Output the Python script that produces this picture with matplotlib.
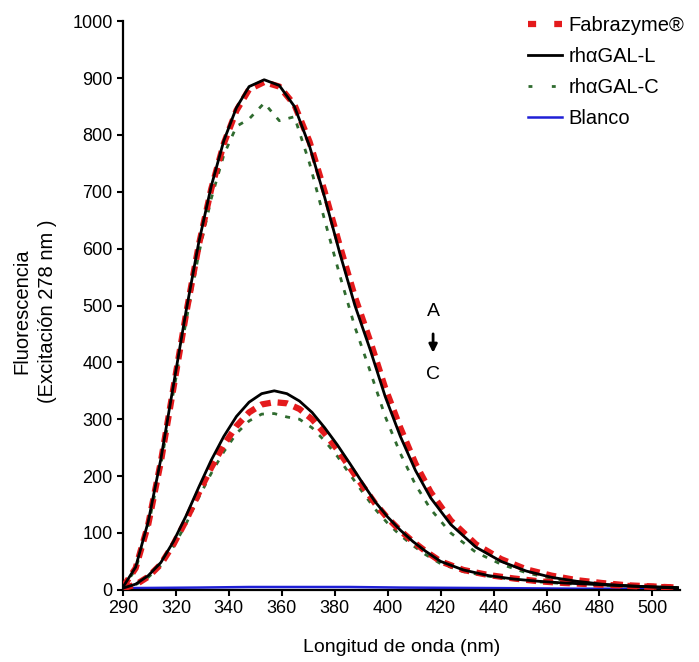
import numpy as np
import matplotlib.pyplot as plt

plt.rcParams['font.family'] = ['Liberation Sans', 'DejaVu Sans']

# wavelength (nm) sampled along the spectra
nm = [290, 295, 300, 305, 310, 315, 320, 325, 330, 335, 340, 346, 352, 358, 364,
      370, 376, 382, 388, 394, 400, 406, 412, 420, 430, 440, 450, 460, 470, 480,
      490, 500, 510]

# upper set of spectra (A)
fab_A = [5, 38, 115, 225, 355, 485, 605, 705, 785, 843, 880, 893, 885, 853, 788,
         700, 605, 515, 438, 355, 285, 222, 172, 122, 80, 54, 36, 25, 17, 12,
         8, 6, 4]
galL_A = [5, 40, 120, 230, 360, 490, 610, 710, 790, 848, 885, 897, 887, 850, 780,
          690, 592, 500, 423, 340, 270, 210, 162, 115, 75, 50, 33, 22, 15, 10,
          7, 5, 3]
galC_A = [4, 36, 112, 220, 348, 472, 590, 688, 765, 815, 828, 856, 825, 832, 750,
          650, 553, 462, 385, 305, 240, 185, 142, 100, 66, 45, 30, 20, 14, 10,
          7, 5, 3]

# lower set of spectra (C)
nm_C = [290, 295, 300, 305, 310, 315, 320, 325, 330, 335, 340, 345, 350, 355, 360,
        365, 370, 375, 380, 385, 390, 395, 400, 405, 410, 416, 425, 435, 445, 455,
        465, 480, 495, 510]
fab_C = [3, 9, 23, 45, 80, 122, 170, 215, 255, 288, 312, 326, 330, 328, 318,
         300, 275, 247, 215, 183, 152, 126, 104, 85, 68, 50, 35, 26, 20, 15,
         12, 9, 6, 4]
galL_C = [3, 10, 25, 48, 85, 130, 180, 228, 270, 305, 330, 345, 350, 345, 332,
          312, 285, 255, 222, 188, 155, 128, 105, 85, 68, 50, 35, 25, 19, 15,
          12, 9, 6, 4]
galC_C = [3, 9, 22, 43, 76, 116, 162, 205, 243, 275, 297, 309, 310, 304, 300,
          285, 262, 235, 203, 172, 142, 117, 96, 78, 62, 46, 32, 24, 18, 14,
          11, 8, 6, 4]

nm_blank = [290, 320, 340, 380, 400, 440, 470, 510]
blanco = [3, 4, 5, 5, 4, 3, 2, 2]

tick_labels = ['290', '320', '340', '360', '380', '400', '420', '440', '460', '480', '500']

fig = plt.figure(figsize=(6.99, 6.62), dpi=100)
ax = fig.add_axes([0.176, 0.109, 0.797, 0.859])

red = '#e41a1c'
green = '#2f6b2f'
blue = '#1f1fd6'

ax.plot(nm_blank, blanco, color=blue, lw=1.8, zorder=1)
ax.plot(nm, galC_A, color=green, lw=2, ls=(0, (1.8, 3)), zorder=2)
ax.plot(nm_C, galC_C, color=green, lw=2, ls=(0, (1.8, 3)), zorder=2)
ax.plot(nm, fab_A, color=red, lw=4.5, ls=(0, (1.6, 1.1)), zorder=3)
ax.plot(nm_C, fab_C, color=red, lw=4.5, ls=(0, (1.6, 1.1)), zorder=3)
ax.plot(nm, galL_A, color='black', lw=2, zorder=4)
ax.plot(nm_C, galL_C, color='black', lw=2, zorder=4)

ax.set_xlim(290, 511)
ax.set_ylim(0, 1000)
ax.set_xticks(np.linspace(290, 500, len(tick_labels)))
ax.set_xticklabels(tick_labels)
ax.set_yticks(np.arange(0, 1001, 100))
ax.tick_params(labelsize=13, width=1.5, length=4, direction='out')
for s in ['top', 'right']:
    ax.spines[s].set_visible(False)
for s in ['left', 'bottom']:
    ax.spines[s].set_linewidth(1.6)

ax.set_xlabel('Longitud de onda (nm)', fontsize=14, labelpad=16)
ax.set_ylabel('Fluorescencia\n(Excitación 278 nm )', fontsize=14.5,
              linespacing=1.45)
ax.yaxis.set_label_coords(-0.118, 0.49)

ax.text(413, 489, 'A', fontsize=14, ha='center', va='center')
ax.annotate('', xy=(413, 412), xytext=(413, 455),
            arrowprops=dict(arrowstyle='-|>', color='black', lw=2, mutation_scale=12))
ax.text(413, 379, 'C', fontsize=14, ha='center', va='center')

handles = [
    plt.Line2D([], [], color=red, lw=4.5, ls=(0, (1.3, 2.9))),
    plt.Line2D([], [], color='black', lw=2),
    plt.Line2D([], [], color=green, lw=2, ls=(0, (1.4, 7))),
    plt.Line2D([], [], color=blue, lw=1.8),
]
fig.legend(handles, ['Fabrazyme®', 'rhαGAL-L', 'rhαGAL-C', 'Blanco'],
           loc='upper right', bbox_to_anchor=(1.005, 1.003), frameon=False,
           fontsize=14.5, handlelength=1.7, handletextpad=0.3, labelspacing=0.6)

fig.savefig('out.png', dpi=100)
